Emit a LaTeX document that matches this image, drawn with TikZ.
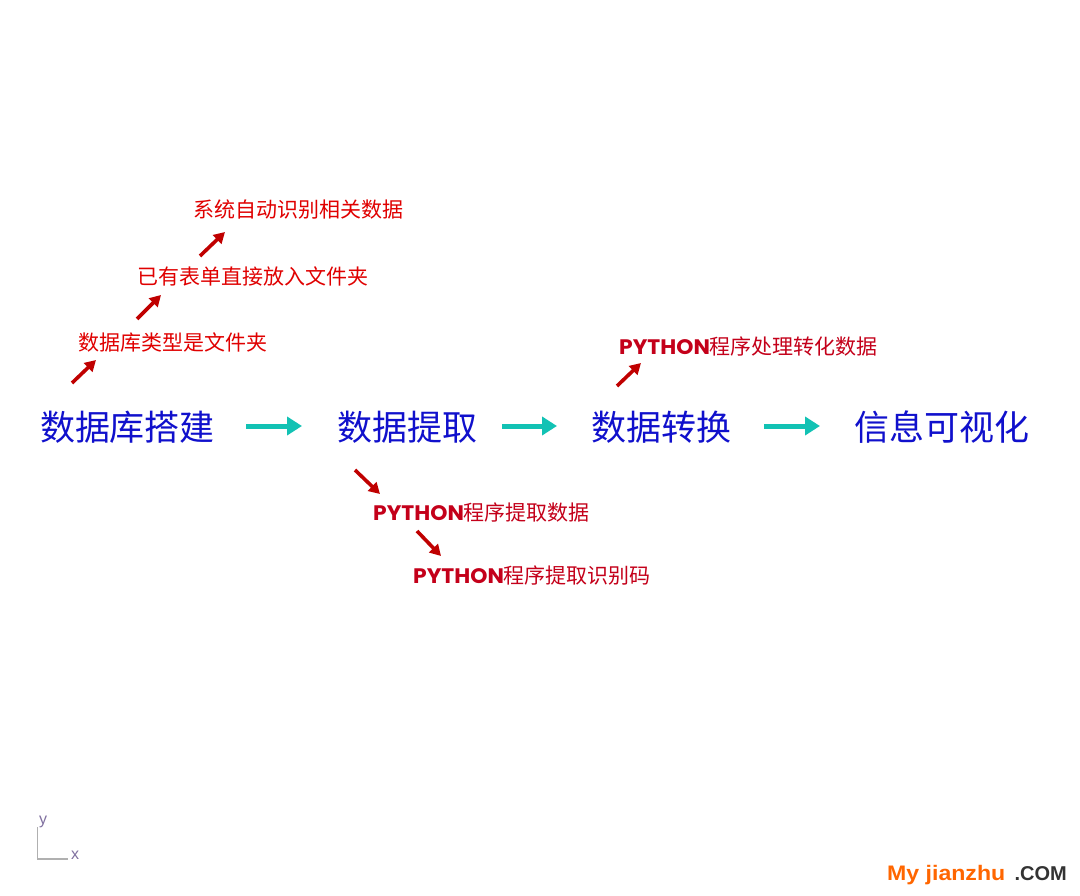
\documentclass[tikz,border=0pt]{standalone}
\usepackage{fontspec}
\usetikzlibrary{arrows.meta}
\newfontfamily\cjk{Noto Sans CJK SC}
\newfontfamily\pyfont{Poppins}[BoldFont={* Bold}]
\newfontfamily\wmfont{Liberation Sans}
\definecolor{blueT}{HTML}{1010CC}
\definecolor{redT}{HTML}{E00000}
\definecolor{pyRed}{HTML}{C4001A}
\definecolor{arrRed}{HTML}{C00000}
\definecolor{tealA}{HTML}{12C2B4}
\definecolor{axisG}{HTML}{B0B0B0}
\definecolor{axisL}{HTML}{8070A0}
\definecolor{orangeW}{HTML}{FF6600}
\definecolor{grayW}{HTML}{333333}
\tikzset{
  mainnode/.style={inner sep=0pt, anchor=base, text=blueT, font=\cjk\fontsize{35}{40}\selectfont},
  subnode/.style={inner sep=0pt, anchor=base west, text=redT, font=\cjk\fontsize{21}{24}\selectfont},
  pynode/.style={inner sep=0pt, anchor=base west, text=pyRed, font=\cjk\fontsize{21}{24}\selectfont},
  flowarrow/.style={draw=tealA, line width=5pt, -{Triangle[length=15pt,width=18pt]}},
  subarrow/.style={draw=arrRed, line width=3.6pt, -{Triangle[length=11pt,width=12pt]}},
  axisline/.style={draw=axisG, line width=1.5pt},
  axislabel/.style={inner sep=0pt, text=axisL, font=\wmfont\fontsize{16}{18}\selectfont}
}
\newcommand{\py}{\scalebox{1.04}[1]{\pyfont\bfseries PYTHON}}
\begin{document}
\begin{tikzpicture}[x=1pt,y=-1pt]
\useasboundingbox (0,0) rectangle (1080,896);
\fill[white] (0,0) rectangle (1080,896);

% main flow
\node[mainnode] (mA) at (127.5,440) {数据库搭建};
\node[mainnode] (mB) at (407,440) {数据提取};
\node[mainnode] (mC) at (661,440) {数据转换};
\node[mainnode] (mD) at (941.5,440) {信息可视化};

\coordinate (fa1s) at (246,426); \coordinate (fa1e) at (302,426);
\coordinate (fa2s) at (502,426); \coordinate (fa2e) at (557,426);
\coordinate (fa3s) at (764,426); \coordinate (fa3e) at (820,426);
\draw[flowarrow] (fa1s) -- (fa1e);
\draw[flowarrow] (fa2s) -- (fa2e);
\draw[flowarrow] (fa3s) -- (fa3e);

% sub steps of 数据库搭建
\node[subnode] (r1) at (78,350) {数据库类型是文件夹};
\node[subnode] (r2) at (137,285) {已有表单直接放入文件夹};
\node[subnode] (r3) at (193,218) {系统自动识别相关数据};
\coordinate (a1s) at (72,383); \coordinate (a1e) at (96,360);
\coordinate (a2s) at (137,319); \coordinate (a2e) at (161,295);
\coordinate (a3s) at (200,256); \coordinate (a3e) at (225,232);
\draw[subarrow] (a1s) -- (a1e);
\draw[subarrow] (a2s) -- (a2e);
\draw[subarrow] (a3s) -- (a3e);

% sub steps of 数据提取
\node[pynode] (p1) at (373,520) {\py 程序提取数据};
\node[pynode] (p2) at (413,583) {\py 程序提取识别码};
\coordinate (b1s) at (355,470); \coordinate (b1e) at (380,494);
\coordinate (b2s) at (417,531); \coordinate (b2e) at (441,556);
\draw[subarrow] (b1s) -- (b1e);
\draw[subarrow] (b2s) -- (b2e);

% sub step of 数据转换
\node[pynode] (p3) at (619,355) {\py 程序处理转化数据};
\coordinate (c1s) at (617,386); \coordinate (c1e) at (641,363);
\draw[subarrow] (c1s) -- (c1e);

% axis icon
\coordinate (ax0) at (37.5,859);
\coordinate (axy) at (37.5,827);
\coordinate (axx) at (68,859);
\draw[axisline] (axy) -- (ax0) -- (axx);
\node[axislabel] (ly) at (43,822) {y};
\node[axislabel] (lx) at (75,855) {x};

% watermark
\node[inner sep=0pt, anchor=base west, font=\wmfont\bfseries\fontsize{21}{24}\selectfont, text=orangeW] (w1) at (887,880) {\scalebox{1.1}[1]{My jianzhu}};
\node[inner sep=0pt, anchor=base east, font=\wmfont\bfseries\fontsize{20}{24}\selectfont, text=grayW] (w2) at (1067,880) {.COM};
\end{tikzpicture}
\end{document}
